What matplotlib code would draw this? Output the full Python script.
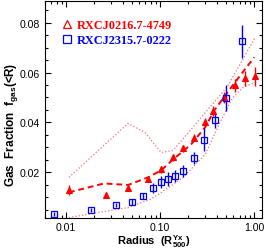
import matplotlib
matplotlib.use("Agg")
import matplotlib.pyplot as plt
from matplotlib.lines import Line2D
import numpy as np

plt.rcParams['font.family'] = ['Liberation Sans', 'DejaVu Sans']
plt.rcParams['mathtext.fontset'] = 'custom'
plt.rcParams['mathtext.rm'] = 'Liberation Sans:bold'
plt.rcParams['mathtext.it'] = 'Liberation Sans:bold'
plt.rcParams['mathtext.bf'] = 'Liberation Sans:bold'

# Red cluster RXCJ0216.7-4749
r_red = [0.0108, 0.0267, 0.0457, 0.0745, 0.1025, 0.1375, 0.176, 0.230, 0.301, 0.366, 0.480, 0.628, 0.802, 1.025]
f_red = [0.0127, 0.0110, 0.0135, 0.0171, 0.0211, 0.0259, 0.0295, 0.0339, 0.0400, 0.0444, 0.0500, 0.0548, 0.0576, 0.0584]
e_red = [0.0020, 0.0012, 0.0012, 0.0012, 0.0013, 0.0013, 0.0014, 0.0015, 0.0016, 0.0020, 0.0022, 0.0025, 0.0032, 0.0040]

# Blue cluster RXCJ2315.7-0222
r_blue = [0.00745, 0.0183, 0.034, 0.0504, 0.066, 0.0843, 0.1032, 0.1216, 0.143, 0.176, 0.2285, 0.294, 0.385, 0.498, 0.736]
f_blue = [0.0034, 0.0050, 0.0067, 0.0080, 0.0106, 0.0137, 0.0161, 0.0171, 0.0184, 0.0204, 0.0258, 0.0331, 0.0409, 0.0497, 0.0725]
e_blue = [0.0008, 0.0008, 0.0008, 0.0012, 0.0012, 0.0020, 0.0024, 0.0028, 0.0024, 0.0024, 0.0024, 0.0047, 0.0032, 0.0052, 0.0065]

# Mean profile (dashed) and envelope (dotted)
r_mean = [0.01076, 0.0254, 0.0457, 0.0745, 0.1025, 0.1375, 0.213, 0.301, 0.383, 0.611, 1.0]
f_mean = [0.0119, 0.01546, 0.01486, 0.0179, 0.0207, 0.0251, 0.0311, 0.0380, 0.0452, 0.0556, 0.0661]

r_up = [0.01076, 0.0457, 0.0692, 0.1025, 0.1375, 0.213, 0.519, 1.025]
f_up = [0.0179, 0.0396, 0.0359, 0.0279, 0.0287, 0.0371, 0.0544, 0.0741]

r_lo = [0.01076, 0.0457, 0.0782, 0.1025, 0.176, 0.301, 0.433, 0.594, 0.76, 1.025]
f_lo = [0.0018, 0.0058, 0.0090, 0.0118, 0.0179, 0.0271, 0.0400, 0.0500, 0.0540, 0.0560]

xticks = [0.01, 0.1, 1.0]
xticklabels = ['0.01', '0.10', '1.00']
yticks = [0.02, 0.04, 0.06, 0.08]
yticklabels = ['0.02', '0.04', '0.06', '0.08']

fig = plt.figure(figsize=(2.66, 2.51), dpi=100)
ax = fig.add_axes([45/266, 1 - 218.5/251, 216.7/266, 216.5/251])

ax.plot(r_up, f_up, ':', color='#ff7070', lw=0.9)
ax.plot(r_lo, f_lo, ':', color='#ff7070', lw=0.9)
ax.plot(r_mean, f_mean, '--', color='red', lw=1.4, dashes=(3, 2))

ax.errorbar(r_red, f_red, yerr=e_red, fmt='^', color='red', ms=5, mew=0.8, elinewidth=1.0, capsize=0)
ax.errorbar(r_blue, f_blue, yerr=e_blue, fmt='s', color='blue', mfc='none', ms=5, mew=0.9, elinewidth=1.0, capsize=0)

ax.set_xscale('log')
ax.set_xlim(0.006, 1.2)
ax.set_ylim(0.0018, 0.0887)

ax.set_xticks(xticks)
ax.set_xticklabels(xticklabels)
ax.set_yticks(yticks)
ax.set_yticklabels(yticklabels)
ax.yaxis.set_minor_locator(matplotlib.ticker.MultipleLocator(0.005))
ax.tick_params(which='both', direction='in', top=True, right=True, labelsize=7.6, width=0.8)
ax.tick_params(axis='x', pad=3.2)
ax.tick_params(axis='y', pad=4)
ax.tick_params(which='major', length=4.5)
ax.tick_params(which='minor', length=2.2)
ax.xaxis.set_minor_formatter(matplotlib.ticker.NullFormatter())
for s in ax.spines.values():
    s.set_linewidth(0.8)

ax.set_xlabel(r'Radius  (R$_{500}^{\rm Yx}$)', fontsize=8.0, fontweight='bold')
ax.xaxis.set_label_coords(0.5, -0.106, transform=ax.transAxes)
ax.xaxis.label.set_va('center')
ax.set_ylabel(r'Gas  Fraction  f$_{\rm gas}$(<R)', fontsize=8.5, fontweight='bold')
ax.yaxis.set_label_coords(-0.155, 0.43, transform=ax.transAxes)
ax.yaxis.label.set_va('center')

handles = [Line2D([], [], ls='none', marker='^', mfc='none', mec='red', ms=6, mew=0.9),
           Line2D([], [], ls='none', marker='s', mfc='none', mec='blue', ms=6, mew=0.9)]
leg = ax.legend(handles, ['RXCJ0216.7-4749', 'RXCJ2315.7-0222'], loc='upper left',
                bbox_to_anchor=(0.05, 0.945), frameon=False, handlelength=0.8, handletextpad=0.45,
                labelspacing=0.25, borderpad=0,
                prop={'family': 'Liberation Serif', 'weight': 'bold', 'size': 8.8})
for t, c in zip(leg.get_texts(), ['red', 'blue']):
    t.set_color(c)

fig.savefig('out.png', dpi=100)
